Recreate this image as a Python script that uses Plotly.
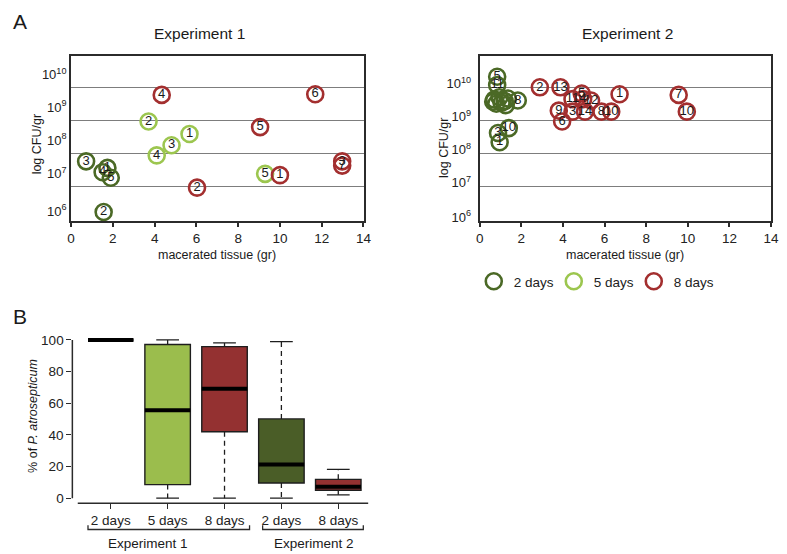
import plotly.graph_objects as go

PAGE_W, PAGE_H = 787, 554
OFF = 8  # default page margin around the figure
W, H = PAGE_W - OFF, PAGE_H - OFF

# ---------------- Panel A data: x = macerated tissue (gr), y = log10 CFU/gr ----------------
# Experiment 1
e1_d2_x = [0.72, 1.74, 1.51, 1.90, 1.56]
e1_d2_y = [7.77, 7.57, 7.44, 7.27, 6.23]
e1_d2_lab = ["3", "1", "4", "5", "2"]

e1_d5_x = [3.71, 5.67, 4.81, 4.10, 9.29]
e1_d5_y = [8.98, 8.60, 8.26, 7.95, 7.39]
e1_d5_lab = ["2", "1", "3", "4", "5"]

e1_d8_x = [4.34, 9.05, 6.03, 10.00, 11.69, 12.98, 12.98]
e1_d8_y = [9.79, 8.81, 6.97, 7.35, 9.81, 7.77, 7.64]
e1_d8_lab = ["4", "5", "2", "1", "6", "3", "7"]

# Experiment 2 (labels of circles hidden inside the cluster are unreadable -> "")
e2_d2_x = [0.70, 0.95, 1.20, 0.80, 1.35, 1.05, 1.25, 0.65, 0.84, 0.84, 1.83, 0.88, 1.40, 0.96]
e2_d2_y = [9.65, 9.72, 9.60, 9.52, 9.68, 9.55, 9.48, 9.58, 10.34, 10.09, 9.62, 8.63, 8.78, 8.35]
e2_d2_lab = ["", "", "", "", "", "", "", "", "5", "11", "8", "3", "10", "1"]

e2_d8_x = [2.89, 3.88, 4.90, 6.72, 4.46, 4.97, 5.35, 3.80, 3.96, 4.46, 5.06, 5.85, 6.32, 9.56, 9.95]
e2_d8_y = [10.02, 10.02, 9.83, 9.81, 9.66, 9.66, 9.62, 9.31, 8.98, 9.28, 9.28, 9.28, 9.28, 9.79, 9.28]
e2_d8_lab = ["2", "13", "5", "1", "11", "4", "12", "9", "6", "3", "14", "8", "10", "7", "10"]

x_ticks = [0, 2, 4, 6, 8, 10, 12, 14]
grid_decades = [7, 8, 9, 10]
y_tick_text = ["10<sup>6</sup>", "10<sup>7</sup>", "10<sup>8</sup>", "10<sup>9</sup>", "10<sup>10</sup>"]
e1_ytick_pos = [6.26, 7.40, 8.42, 9.41, 10.41]
e2_ytick_pos = [6.07, 7.12, 8.12, 9.13, 10.13]

# ---------------- Panel B data: % of P. atrosepticum ----------------
box_labels = ["2 days", "5 days", "8 days", "2 days", "8 days"]
box_q1 = [100, 8.6, 42.0, 9.6, 5.0]
box_median = [100, 55.5, 69.1, 21.3, 7.3]
box_q3 = [100, 97.1, 95.8, 50.1, 11.9]
box_low = [100, 0, 0, 0, 2.1]
box_high = [100, 100, 98.1, 98.9, 18.2]

C2 = "#4b6926"
C5 = "#9cc64f"
C8 = "#a32f2f"
box_fill = ["rgba(0,0,0,0)", "#9bbd4d", "#943131", "#4a5d27", "#943131"]

FONT = "Liberation Sans, Arial, sans-serif"


def px(x):
    return (x - OFF) / W


def py(y):
    return 1 - (y - OFF) / H


fig = go.Figure()


def ring_trace(x, y, color, name, xa, ya, legend):
    return go.Scatter(
        x=x, y=y, mode="markers", name=name, showlegend=legend,
        xaxis=xa, yaxis=ya,
        marker=dict(symbol="circle-open", size=16, color=color, line=dict(width=2.6, color=color)),
        hoverinfo="skip",
    )


def text_trace(x, y, lab, xa, ya):
    keep = [i for i, t in enumerate(lab) if t]
    return go.Scatter(
        x=[x[i] for i in keep], y=[y[i] for i in keep], text=[lab[i] for i in keep],
        mode="text", showlegend=False, xaxis=xa, yaxis=ya,
        textposition="middle center", textfont=dict(size=13, color="#1a1a1a", family=FONT),
        hoverinfo="skip",
    )


fig.add_trace(ring_trace(e1_d2_x, e1_d2_y, C2, "2 days", "x", "y", True))
fig.add_trace(ring_trace(e1_d5_x, e1_d5_y, C5, "5 days", "x", "y", True))
fig.add_trace(ring_trace(e1_d8_x, e1_d8_y, C8, "8 days", "x", "y", True))
fig.add_trace(ring_trace(e2_d2_x, e2_d2_y, C2, "2 days", "x2", "y2", False))
fig.add_trace(ring_trace(e2_d8_x, e2_d8_y, C8, "8 days", "x2", "y2", False))

fig.add_trace(text_trace(e1_d2_x, e1_d2_y, e1_d2_lab, "x", "y"))
fig.add_trace(text_trace(e1_d5_x, e1_d5_y, e1_d5_lab, "x", "y"))
fig.add_trace(text_trace(e1_d8_x, e1_d8_y, e1_d8_lab, "x", "y"))
fig.add_trace(text_trace(e2_d2_x, e2_d2_y, e2_d2_lab, "x2", "y2"))
fig.add_trace(text_trace(e2_d8_x, e2_d8_y, e2_d8_lab, "x2", "y2"))

# ---------------- box plot ----------------
pos = list(range(1, len(box_labels) + 1))
for i, p in enumerate(pos):
    fig.add_trace(go.Box(
        x=[p], q1=[box_q1[i]], median=[box_median[i]], q3=[box_q3[i]],
        lowerfence=[box_q1[i]], upperfence=[box_q3[i]],
        width=0.8, whiskerwidth=0, fillcolor=box_fill[i],
        line=dict(color="#1e1e1e", width=1.4),
        xaxis="x3", yaxis="y3", showlegend=False, hoverinfo="skip", boxpoints=False,
    ))

# dashed whiskers and solid caps
wx, wy = [], []
cx, cy = [], []
for i, p in enumerate(pos):
    if box_high[i] > box_q3[i]:
        wx += [p, p, None]
        wy += [box_q3[i], box_high[i], None]
    if box_low[i] < box_q1[i]:
        wx += [p, p, None]
        wy += [box_q1[i], box_low[i], None]
    if box_high[i] != box_low[i]:
        cx += [p - 0.2, p + 0.2, None, p - 0.2, p + 0.2, None]
        cy += [box_high[i], box_high[i], None, box_low[i], box_low[i], None]
fig.add_trace(go.Scatter(x=wx, y=wy, mode="lines", xaxis="x3", yaxis="y3", showlegend=False,
                         line=dict(color="#1e1e1e", width=1.3, dash="5px,4px"), hoverinfo="skip"))
fig.add_trace(go.Scatter(x=cx, y=cy, mode="lines", xaxis="x3", yaxis="y3", showlegend=False,
                         line=dict(color="#1e1e1e", width=1.3), hoverinfo="skip"))

# thick median bars
for i, p in enumerate(pos):
    m = box_median[i]
    fig.add_trace(go.Box(
        x=[p], q1=[m], median=[m], q3=[m], lowerfence=[m], upperfence=[m],
        width=0.8, whiskerwidth=0, fillcolor="rgba(0,0,0,0)",
        line=dict(color="#000000", width=4),
        xaxis="x3", yaxis="y3", showlegend=False, hoverinfo="skip", boxpoints=False,
    ))

# ---------------- axes ----------------
frame = dict(showline=True, mirror=True, linecolor="#2b2b2b", linewidth=2, zeroline=False)
xcommon = dict(range=[0, 14], tickvals=x_ticks, ticks="outside", ticklen=4, tickwidth=1.5,
               tickcolor="#2b2b2b", tickfont=dict(size=13.5, color="#222", family=FONT),
               showgrid=False, **frame)
ycommon = dict(range=[5.955, 10.985], ticktext=y_tick_text, tickmode="array", ticks="",
               tickfont=dict(size=13, color="#222", family=FONT), showgrid=False,
               minor=dict(tickmode="array", tickvals=grid_decades, showgrid=True,
                          gridcolor="#7d7d7d", gridwidth=1.3, ticks=""),
               **frame)

fig.update_layout(
    width=W, height=H,
    margin=dict(l=0, r=0, t=0, b=0),
    paper_bgcolor="white", plot_bgcolor="rgba(0,0,0,0)",
    font=dict(family=FONT, color="#222"),
    boxmode="overlay",
    xaxis=dict(domain=[px(68), px(365)], anchor="y", **xcommon),
    yaxis=dict(domain=[py(222), py(55)], anchor="x", tickvals=e1_ytick_pos, ticklabelstandoff=0,
               **ycommon),
    xaxis2=dict(domain=[px(483), px(779)], anchor="y2", **xcommon),
    yaxis2=dict(domain=[py(222), py(55)], anchor="x2", tickvals=e2_ytick_pos, ticklabelstandoff=4,
                **ycommon),
    xaxis3=dict(domain=[px(69.3), px(370)], anchor="y3", range=[0.325, 5.53], tickvals=pos,
                ticktext=box_labels, ticks="outside", ticklen=5, tickwidth=1.3, tickcolor="#2b2b2b",
                showline=False, showgrid=False, zeroline=False,
                tickfont=dict(size=13.5, color="#222", family=FONT)),
    yaxis3=dict(domain=[py(506.7), py(336)], anchor="x3", range=[-3.13, 103.76],
                tickvals=[0, 20, 40, 60, 80, 100], ticks="outside", ticklen=5, tickwidth=1.3,
                tickcolor="#2b2b2b", showline=False, showgrid=False, zeroline=False,
                tickfont=dict(size=13.5, color="#222", family=FONT)),
    legend=dict(orientation="h", x=px(477), xanchor="left", y=py(283), yanchor="middle",
                font=dict(size=13.5, color="#222", family=FONT), entrywidth=35,
                bgcolor="rgba(0,0,0,0)", borderwidth=0, itemclick=False),
)

# axis lines of the box plot (R style, detached)
fig.add_shape(type="line", xref="x3", yref="y3 domain", x0=0.42, x1=5.53, y0=0, y1=0,
              line=dict(color="#2b2b2b", width=1.5))
fig.add_shape(type="line", xref="x3 domain", yref="y3", x0=0, x1=0, y0=0, y1=100,
              line=dict(color="#2b2b2b", width=1.5))

# experiment brackets
for a, b in [(0.60, 3.44), (3.67, 5.44)]:
    fig.add_shape(type="path", xref="x3", yref="paper",
                  path=f"M {a},{py(529)} L {a},{py(533.3)} L {b},{py(533.3)} L {b},{py(529)}",
                  line=dict(color="#2b2b2b", width=1.3))


def ann(text, x, y, size, angle=0, xanchor="center", yanchor="middle"):
    fig.add_annotation(text=text, x=px(x), y=py(y), xref="paper", yref="paper",
                       showarrow=False, textangle=angle, xanchor=xanchor, yanchor=yanchor,
                       borderpad=0, font=dict(size=size, color="#1a1a1a", family=FONT))


ann("A", 8.5, 8.5, 21, xanchor="left", yanchor="top")
ann("B", 8.5, 306, 21, xanchor="left", yanchor="top")
ann("Experiment 1", 198, 33, 15.5)
ann("Experiment 2", 633, 33, 15.5)
ann("log CFU/gr", 33, 145, 12.5, -90)
ann("log CFU/gr", 446, 148, 12.5, -90)
ann("macerated tissue (gr)", 216.5, 256.7, 12.5)
ann("macerated tissue (gr)", 631, 256.7, 12.5)
ann("% of <i>P. atrosepticum</i>", 30, 419, 12.5, -90)
ann("Experiment 1", 146, 547, 13.5)
ann("Experiment 2", 315, 547, 13.5)

fig.write_html("out.html")
